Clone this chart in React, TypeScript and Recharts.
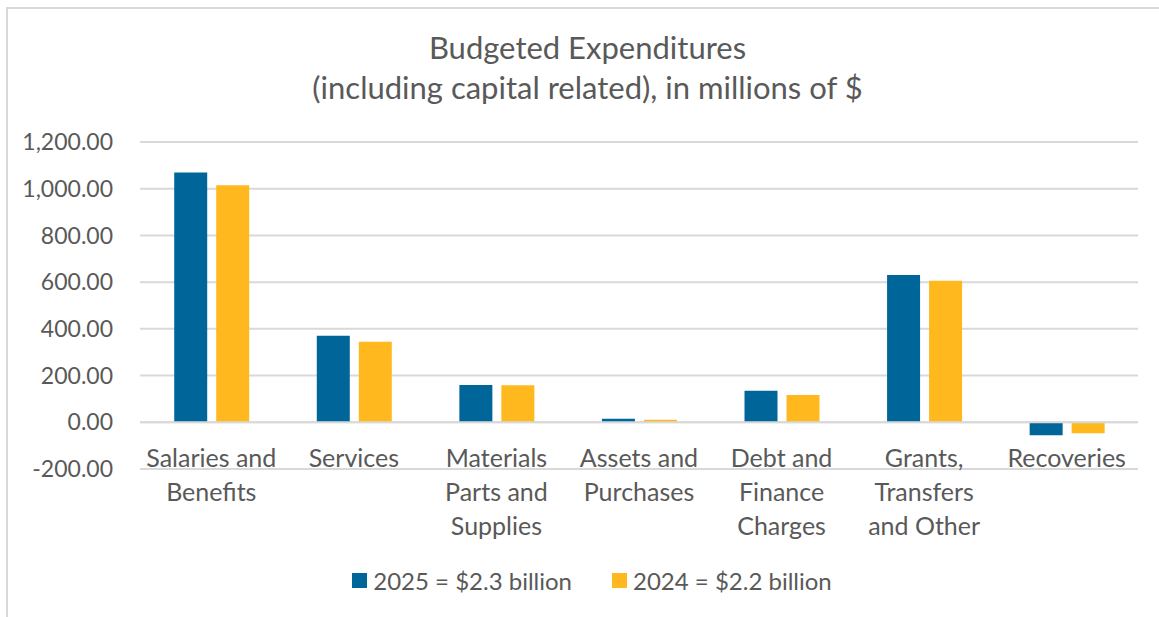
import { Bar, BarChart, CartesianGrid, Legend, ReferenceLine, XAxis, YAxis } from "recharts";

const categories = [
  "Salaries and|Benefits",
  "Services",
  "Materials|Parts and|Supplies",
  "Assets and|Purchases",
  "Debt and|Finance|Charges",
  "Grants,|Transfers|and Other",
  "Recoveries"
];
const values2025 = [1069, 370, 160, 15, 135, 631, -55];
const values2024 = [1015, 345, 159, 11, 117, 606, -47];
const yTicks = [-200, 0, 200, 400, 600, 800, 1000, 1200];

const seriesInfo = [
  { key: "y2025", label: "2025 = $2.3 billion", color: "#00669a" },
  { key: "y2024", label: "2024 = $2.2 billion", color: "#ffb81e" }
];

const data = categories.map((name, i) => ({
  name,
  y2025: values2025[i],
  y2024: values2024[i]
}));

const FONT = "Lato, 'Noto Sans', sans-serif";
const TEXT = "#595959";

function CategoryTick({ x, y, payload }: any) {
  const lines = String(payload.value).split("|");
  return (
    <g>
      {lines.map((line, i) => (
        <text
          key={i}
          x={x}
          y={y - 2 + i * 34}
          textAnchor="middle"
          fill={TEXT}
          fontSize={25}
          fontFamily={FONT}
        >
          {line}
        </text>
      ))}
    </g>
  );
}

function LegendContent() {
  return (
    <div
      style={{
        height: 30,
        display: "flex",
        justifyContent: "center",
        alignItems: "center",
        gap: 40,
        paddingLeft: 25,
        fontFamily: FONT,
        fontSize: 24,
        color: TEXT
      }}
    >
      {seriesInfo.map((s) => (
        <span key={s.key} style={{ display: "flex", alignItems: "center" }}>
          <span style={{ width: 15, height: 15, background: s.color, marginRight: 6, display: "inline-block" }} />
          {s.label}
        </span>
      ))}
    </div>
  );
}

export default function App() {
  return (
    <div style={{ position: "absolute", left: 0, top: 0, width: 1159, height: 617, background: "#fff" }}>
      <div
        style={{
          position: "absolute",
          left: 6,
          top: 7,
          right: 0,
          bottom: 0,
          borderLeft: "2px solid #d9d9d9",
          borderTop: "2px solid #d9d9d9"
        }}
      />
      <div
        style={{
          position: "absolute",
          left: 0,
          top: 27,
          width: 1175,
          textAlign: "center",
          fontFamily: FONT,
          fontSize: 31,
          lineHeight: "40px",
          color: TEXT
        }}
      >
        Budgeted Expenditures
        <br />
        (including capital related), in millions of $
      </div>
      <div style={{ position: "absolute", left: 0, top: 0 }}>
        <BarChart
          width={1159}
          height={617}
          data={data}
          margin={{ top: 142, right: 21, bottom: 22, left: 0 }}
          barCategoryGap="24%"
          barGap={9}
        >
          <CartesianGrid vertical={false} stroke="#d9d9d9" strokeWidth={2} />
          <XAxis
            dataKey="name"
            height={96}
            axisLine={false}
            tickLine={false}
            tickSize={0}
            tickMargin={0}
            interval={0}
            tick={<CategoryTick />}
          />
          <YAxis
            width={140}
            domain={[-200, 1200]}
            ticks={yTicks}
            axisLine={false}
            tickLine={false}
            tickSize={0}
            tickMargin={27}
            tickFormatter={(v: number) =>
              v.toLocaleString("en-US", { minimumFractionDigits: 2, maximumFractionDigits: 2 })
            }
            tick={{ fill: TEXT, fontSize: 23, fontFamily: FONT }}
          />
          <ReferenceLine y={0} stroke="#d9d9d9" strokeWidth={2} />
          {seriesInfo.map((s) => (
            <Bar key={s.key} dataKey={s.key} name={s.label} fill={s.color} isAnimationActive={false} />
          ))}
          <Legend
            verticalAlign="bottom"
            wrapperStyle={{ left: 0, width: 1159 }}
            content={<LegendContent />}
          />
        </BarChart>
      </div>
    </div>
  );
}
